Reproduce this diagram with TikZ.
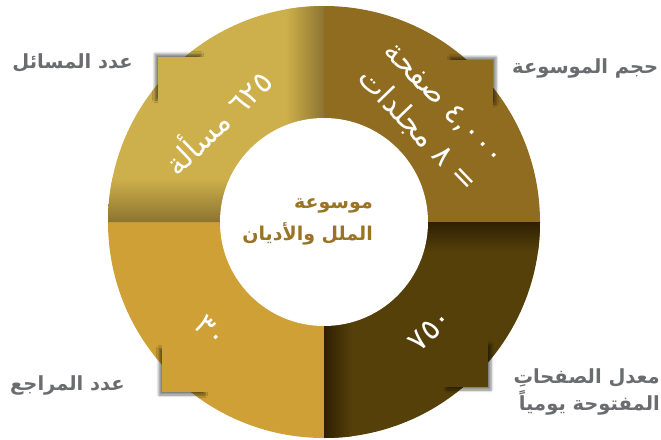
\documentclass[tikz,border=0pt]{standalone}
\usepackage{fontspec}
\usetikzlibrary{shadows.blur}
\TeXXeTstate=1
\newfontfamily\arabicfont[Script=Arabic]{DejaVu Sans}
\definecolor{tlgold}{HTML}{CDB04B}
\definecolor{tldark}{HTML}{8C7431}
\definecolor{trgold}{HTML}{8F6C1F}
\definecolor{blgold}{HTML}{CEA035}
\definecolor{brgold}{HTML}{55400A}
\definecolor{brdark}{HTML}{2E2003}
\definecolor{titlegold}{HTML}{9A7424}
\definecolor{labelgray}{HTML}{6B6C6F}
\begin{document}
\begin{tikzpicture}[x=1pt,y=-1pt]
	\tikzstyle{every node}+=[inner sep=0pt]
	\tikzstyle{ringtext}=[text=white,font=\arabicfont\fontsize{30}{38}\selectfont]
	\tikzstyle{outlabel}=[text=labelgray,font=\arabicfont\bfseries\fontsize{19.5}{27}\selectfont]
	\useasboundingbox (0,0) rectangle (661,439);
	% quadrants of the ring
	\fill [tlgold] (324,222) -- ++(180:216) arc [start angle=180,end angle=270,radius=216] -- cycle;
	\fill [trgold] (324,222) -- ++(270:216) arc [start angle=270,end angle=360,radius=216] -- cycle;
	\fill [brgold] (324,222) -- ++(0:216) arc [start angle=0,end angle=90,radius=216] -- cycle;
	\fill [blgold] (324,222) -- ++(90:216) arc [start angle=90,end angle=180,radius=216] -- cycle;
	% darker bands
	\begin{scope}
		\clip (324,222) -- ++(180:216) arc [start angle=180,end angle=270,radius=216] -- cycle;
		\shade [left color=tlgold,right color=tldark] (286,0) rectangle (324,222);
		\shade [top color=tlgold,bottom color=tldark] (100,178) rectangle (324,222);
	\end{scope}
	\begin{scope}
		\clip (324,222) -- ++(0:216) arc [start angle=0,end angle=90,radius=216] -- cycle;
		\shade [top color=brdark,bottom color=brgold] (324,222) rectangle (545,252);
		\shade [left color=brdark,right color=brgold] (324,300) rectangle (352,440);
	\end{scope}
	% pointers
	\fill [tlgold,blur shadow={shadow xshift=-3pt,shadow yshift=3pt,shadow blur radius=2.5pt,shadow opacity=50}] (158,57) rectangle (204,103);
	\fill [trgold,blur shadow={shadow xshift=3pt,shadow yshift=3pt,shadow blur radius=2.5pt,shadow opacity=50}] (447,60) rectangle (493,107);
	\fill [blgold,blur shadow={shadow xshift=-3pt,shadow yshift=-3pt,shadow blur radius=2.5pt,shadow opacity=50}] (162,345) rectangle (208,392);
	\fill [brgold,blur shadow={shadow xshift=3pt,shadow yshift=-3pt,shadow blur radius=2.5pt,shadow opacity=50}] (443,341) rectangle (488,387);
	% centre
	\fill [white] (324,222) circle (104);
	\draw (373,222) node (title) [anchor=east,align=right,text=titlegold,font=\arabicfont\bfseries\fontsize{19}{32}\selectfont] {\beginR موسوعة\endR\\\beginR الملل والأديان\endR};
	% values
	\draw (216,120) node (questions) [ringtext,rotate=44] {\beginR\beginL ٦٢٥\endL{} مسألة\endR};
	\draw (430,118) node (size) [ringtext,rotate=-46,align=center] {\beginR\beginL ٤,٠٠٠\endL{} صفحة\endR\\\beginR= \beginL ٨\endL{} مجلدات\endR};
	\draw (211,331) node (sources) [ringtext,rotate=-46] {٣٠};
	\draw (430,330) node (pages) [ringtext,rotate=45] {٧٥٠};
	% labels
	\draw (133,63) node (questionslabel) [outlabel,anchor=east] {\beginR عدد المسائل\endR};
	\draw (512,68) node (sizelabel) [outlabel,anchor=west] {\beginR حجم الموسوعة\endR};
	\draw (125,385) node (sourceslabel) [outlabel,anchor=east] {\beginR عدد المراجع\endR};
	\draw (660,392) node (pageslabel) [outlabel,anchor=east,align=right] {\beginR معدل الصفحاتِ\endR\\\beginR المفتوحة يومياً\endR};
\end{tikzpicture}
\end{document}
